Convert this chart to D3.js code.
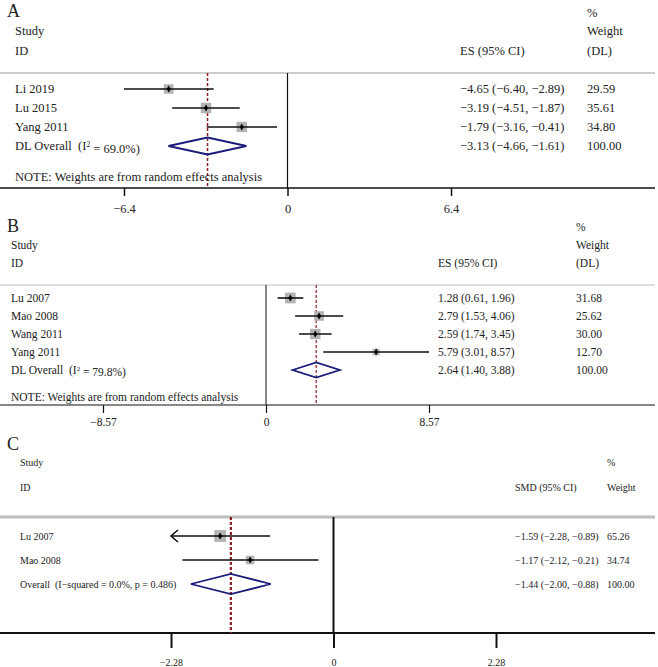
<!DOCTYPE html>
<html>
<head>
<meta charset="utf-8">
<script src="https://cdn.jsdelivr.net/npm/d3@7"></script>
<style>
  body { margin: 0; background: #fff; }
  text { font-family: "Liberation Serif", "DejaVu Serif", serif; fill: #222; white-space: pre; }
</style>
</head>
<body>
<div id="chart"></div>
<script>
// panel A
const studiesA = ["Li 2019", "Lu 2015", "Yang 2011"];
const esA = [-4.65, -3.19, -1.79];
const lowA = [-6.40, -4.51, -3.16];
const highA = [-2.89, -1.87, -0.41];
const weightA = [29.59, 35.61, 34.80];
const overallA = [-3.13, -4.66, -1.61];
const ticksA = [-6.4, 0, 6.4];

// panel B
const studiesB = ["Lu 2007", "Mao 2008", "Wang 2011", "Yang 2011"];
const esB = [1.28, 2.79, 2.59, 5.79];
const lowB = [0.61, 1.53, 1.74, 3.01];
const highB = [1.96, 4.06, 3.45, 8.57];
const weightB = [31.68, 25.62, 30.00, 12.70];
const overallB = [2.64, 1.40, 3.88];
const ticksB = [-8.57, 0, 8.57];

// panel C
const studiesC = ["Lu 2007", "Mao 2008"];
const esC = [-1.59, -1.17];
const lowC = [-2.28, -2.12];
const highC = [-0.89, -0.21];
const weightC = [65.26, 34.74];
const overallC = [-1.44, -2.00, -0.88];
const ticksC = [-2.28, 0, 2.28];

const W = 658, H = 667;
const svg = d3.select("#chart").append("svg")
    .attr("width", W).attr("height", H);

const f2 = d3.format(".2f");
const minus = s => s.replace(/-/g, "\u2212");
const ciText = (e, l, h) => minus(`${f2(e)} (${f2(l)}, ${f2(h)})`);

const panels = [
  {
    letter: "A", letterY: 17, fs: 12.5,
    studies: studiesA, es: esA, low: lowA, high: highA, weight: weightA, overall: overallA, ticks: ticksA,
    xRange: [124, 451], rowY: [89, 146], labelX: 15,
    studyY: 31, idY: 51, esY: 51, wHeadY: [13, 31, 51],
    esX: 460, wX: 587, esHead: "ES (95% CI)", wHead: ["%", "Weight", "(DL)"],
    overallLabel: ["DL Overall  (I", "2", " = 69.0%)"], note: true, noteY: 177,
    ruleY: 73, axisY: 188, tickLen: 8, tickLabelY: 209,
    sqK: 1.75, dHalf: 8.5, zeroW: 1.2, axisW: 1.5, refW: 1.5, ruleW: 1.5
  },
  {
    letter: "B", letterY: 232, fs: 11.5,
    studies: studiesB, es: esB, low: lowB, high: highB, weight: weightB, overall: overallB, ticks: ticksB,
    xRange: [103, 429], rowY: [298, 370], labelX: 11,
    studyY: 245, idY: 263, esY: 263, wHeadY: [227, 245, 263],
    esX: 438, wX: 576, esHead: "ES (95% CI)", wHead: ["%", "Weight", "(DL)"],
    overallLabel: ["DL Overall  (I", "2", " = 79.8%)"], note: true, noteY: 397,
    ruleY: 285, axisY: 405, tickLen: 8, tickLabelY: 422,
    sqK: 1.9, dHalf: 7.5, zeroW: 1, axisW: 1.2, refW: 1.2, ruleW: 1
  },
  {
    letter: "C", letterY: 450, fs: 10,
    studies: studiesC, es: esC, low: lowC, high: highC, weight: weightC, overall: overallC, ticks: ticksC,
    xRange: [171, 496], rowY: [536, 584], labelX: 20,
    studyY: 462, idY: 487, esY: 487, wHeadY: [462, 487],
    esX: 515, wX: 607, esHead: "SMD (95% CI)", wHead: ["%", "Weight"],
    overallLabel: ["Overall  (I\u2212squared = 0.0%, p = 0.486)"], note: false,
    ruleY: 517, axisY: 633, tickLen: 15, tickLabelY: 662,
    sqK: 1.45, dHalf: 10, zeroW: 2, axisW: 2, refW: 2.2, ruleW: 3, arrowLow: true
  }
];

panels.forEach(p => {
  const g = svg.append("g");
  const x = d3.scaleLinear().domain([p.ticks[0], p.ticks[2]]).range(p.xRange);
  const rows = p.studies.concat(["__overall"]);
  const y = d3.scalePoint().domain(rows).range(p.rowY);
  const yOv = y("__overall");

  const txt = (tx, ty, t) => g.append("text").attr("x", tx).attr("y", ty).attr("dy", "0.35em")
    .style("font-size", p.fs + "px").text(t);

  // panel letter
  g.append("text").attr("x", 7).attr("y", p.letterY)
    .style("font-size", "18px").text(p.letter);

  // headers
  txt(p.labelX, p.studyY, "Study");
  txt(p.labelX, p.idY, "ID");
  txt(p.esX, p.esY, p.esHead);
  p.wHead.forEach((t, i) => txt(p.wX, p.wHeadY[i], t));

  // header rule
  g.append("line").attr("x1", 0).attr("x2", 655).attr("y1", p.ruleY).attr("y2", p.ruleY)
    .attr("stroke", "#bdbdbd").attr("stroke-width", p.ruleW);

  // axis
  g.append("line").attr("x1", 0).attr("x2", 655).attr("y1", p.axisY).attr("y2", p.axisY)
    .attr("stroke", "#111").attr("stroke-width", p.axisW);
  const ax = g.append("g").attr("transform", `translate(0,${p.axisY})`)
    .call(d3.axisBottom(x).tickValues(p.ticks).tickSize(p.tickLen).tickFormat(d => minus(String(d))));
  ax.select(".domain").remove();
  ax.selectAll(".tick line").attr("stroke", "#111").attr("stroke-width", p.axisW);
  ax.selectAll(".tick text").attr("y", p.tickLabelY - p.axisY).attr("dy", "0.35em")
    .style("font-size", p.fs + "px").style("font-family", "Liberation Serif, serif").attr("fill", "#222");

  // zero line
  g.append("line").attr("x1", x(0)).attr("x2", x(0)).attr("y1", p.ruleY).attr("y2", p.axisY)
    .attr("stroke", "#111").attr("stroke-width", p.zeroW);

  // overall reference line
  g.append("line").attr("x1", x(p.overall[0])).attr("x2", x(p.overall[0]))
    .attr("y1", p.ruleY).attr("y2", p.axisY)
    .attr("stroke", "#8b1c24").attr("stroke-width", p.refW).attr("stroke-dasharray", "3,2");

  // study rows
  p.studies.forEach((s, i) => {
    const yy = y(s);
    const side = p.sqK * Math.sqrt(p.weight[i]);
    g.append("rect").attr("x", x(p.es[i]) - side / 2).attr("y", yy - side / 2)
      .attr("width", side).attr("height", side).attr("fill", "#b3b3b3");
    g.append("line").attr("x1", x(p.low[i])).attr("x2", x(p.high[i])).attr("y1", yy).attr("y2", yy)
      .attr("stroke", "#111").attr("stroke-width", 1.6);
    if (p.arrowLow && p.low[i] <= p.ticks[0]) {
      const ax0 = x(p.low[i]);
      g.append("path").attr("d", `M${ax0 + 7},${yy - 6}L${ax0},${yy}L${ax0 + 7},${yy + 6}`)
        .attr("fill", "none").attr("stroke", "#111").attr("stroke-width", 1.6);
    }
    g.append("path").attr("transform", `translate(${x(p.es[i])},${yy})`)
      .attr("d", d3.symbol(d3.symbolDiamond, 14)()).attr("fill", "#000");

    txt(p.labelX, yy, s);
    txt(p.esX, yy, ciText(p.es[i], p.low[i], p.high[i]));
    txt(p.wX, yy, f2(p.weight[i]));
  });

  // overall diamond
  const [oe, ol, oh] = p.overall;
  g.append("path")
    .attr("d", `M${x(ol)},${yOv}L${x(oe)},${yOv - p.dHalf}L${x(oh)},${yOv}L${x(oe)},${yOv + p.dHalf}Z`)
    .attr("fill", "none").attr("stroke", "#1b1b7a").attr("stroke-width", 1.8);

  const ot = txt(p.labelX, yOv, null);
  ot.append("tspan").text(p.overallLabel[0]);
  if (p.overallLabel.length > 1) {
    ot.append("tspan").attr("dy", "-0.45em").style("font-size", (p.fs * 0.6) + "px").text(p.overallLabel[1]);
    ot.append("tspan").attr("dy", "0.45em").text(p.overallLabel[2]);
  }
  txt(p.esX, yOv, ciText(oe, ol, oh));
  txt(p.wX, yOv, "100.00");

  if (p.note) txt(p.labelX, p.noteY, "NOTE: Weights are from random effects analysis");
});
</script>
</body>
</html>
